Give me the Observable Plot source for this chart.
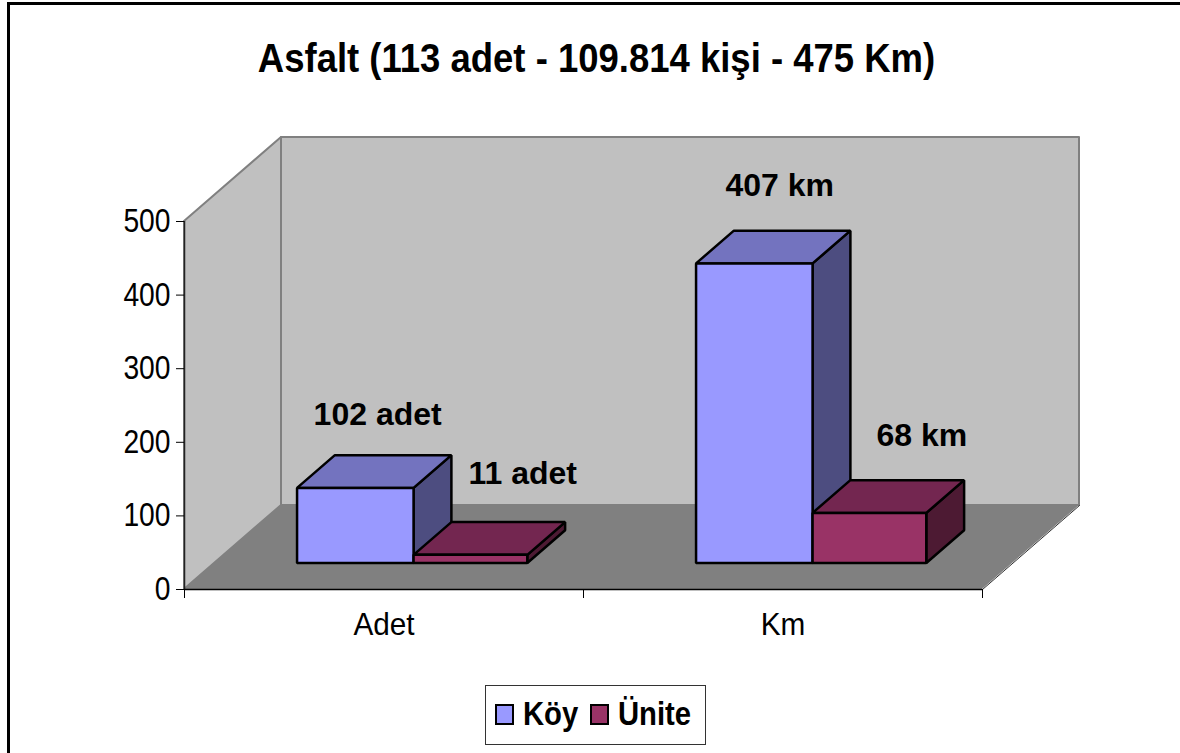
<!DOCTYPE html>
<html><head><meta charset="utf-8">
<script src="https://cdn.jsdelivr.net/npm/d3@7"></script>
<script src="https://cdn.jsdelivr.net/npm/@observablehq/plot@0.6"></script>
<style>
html,body{margin:0;padding:0;background:#fff;overflow:hidden;width:1180px;height:753px}
body{position:relative;font-family:"Liberation Sans",Arial,sans-serif;color:#000}
#frame{position:absolute;left:7px;top:2px;width:1180px;height:760px;border:3px solid #000;box-sizing:border-box}
#title{position:absolute;left:0;top:33px;width:1193px;text-align:center;font-weight:bold;font-size:40px;line-height:50px;white-space:nowrap;transform:scaleX(.912);transform-origin:596.5px 0}
#chart{position:absolute;left:0;top:0}
#legend{position:absolute;left:485px;top:685px;width:221px;height:60px;box-sizing:border-box;border:1px solid #333;background:#fff;font-weight:bold;font-size:34px}
#legend span.k{position:absolute;top:18px;width:15px;height:17px;border:2px solid #000;box-sizing:content-box}
#legend span.l{position:absolute;top:8px;line-height:38px;white-space:nowrap;transform:scaleX(.86);transform-origin:0 0}
</style></head>
<body>
<div id="frame"></div>
<div id="chart"></div>
<div id="title"></div>
<div id="legend"></div>
<script>
const titleText = "Asfalt (113 adet - 109.814 kişi - 475 Km)";
const categories = ["Adet", "Km"];
const series = ["Köy", "Ünite"];
const koyValues = [102, 407];
const uniteValues = [11, 68];
const koyLabels = ["102 adet", "407 km"];
const uniteLabels = ["11 adet", "68 km"];
const yTicks = [0, 100, 200, 300, 400, 500];
const frontColors = ["#9999ff", "#993366"];
const topColors = ["#7373bf", "#732650"];
const sideColors = ["#4d4d80", "#4d1a33"];

// oblique projection: depth 1 = back wall, shifted by (97, -84) pixels
const pxPerX = 399, pxPerY = 0.736;
const P = (x, v, d) => ({x: x + d * 97 / pxPerX, y: v + d * 84 / pxPerY});
const quad = (a, b, c, e, opts) => Plot.area(
  [{x1: a.x, y1: a.y, x2: b.x, y2: b.y}, {x1: e.x, y1: e.y, x2: c.x, y2: c.y}],
  {x1: "x1", y1: "y1", x2: "x2", y2: "y2", ...opts}
);

const marks = [];
const wall = {fill: "#c0c0c0", stroke: "#808080", strokeWidth: 2};
marks.push(quad(P(0,0,1), P(2,0,1), P(2,500,1), P(0,500,1), wall));
marks.push(quad(P(0,0,0), P(0,0,1), P(0,500,1), P(0,500,0), wall));
marks.push(quad(P(0,0,0), P(2,0,0), P(2,0,1), P(0,0,1), {fill: "#808080"}));
marks.push(Plot.line([P(2,0,0), P(2,0,1)], {x: "x", y: "y", stroke: "#333", strokeWidth: 1}));

// bars
const leftHalf = 0.292, rightHalf = 0.285, d0 = 0.31, d1 = 0.70;
const edge = {stroke: "#000", strokeWidth: 2.5, strokeLinejoin: "miter"};
const labels = [];
categories.forEach((c, i) => {
  const mid = i + 0.5;
  [koyValues, uniteValues].forEach((vals, s) => {
    const xa = s === 0 ? mid - leftHalf : mid;
    const xb = s === 0 ? mid : mid + rightHalf;
    const v = vals[i];
    marks.push(quad(P(xb,0,d0), P(xb,0,d1), P(xb,v,d1), P(xb,v,d0), {fill: sideColors[s], ...edge}));
    marks.push(quad(P(xa,v,d0), P(xb,v,d0), P(xb,v,d1), P(xa,v,d1), {fill: topColors[s], ...edge}));
    marks.push(quad(P(xa,0,d0), P(xb,0,d0), P(xb,v,d0), P(xa,v,d0), {fill: frontColors[s], ...edge}));
    labels.push({...P((xa + xb) / 2, v, d1), text: (s === 0 ? koyLabels : uniteLabels)[i], s, i});
  });
});
const labelOff = [[[-16,-41],[-13,-45]],[[14,-49],[14,-45]]];
labels.forEach(l => {
  const [dx, dy] = labelOff[l.s][l.i];
  marks.push(Plot.text([l], {x: "x", y: "y", text: "text", dx, dy, fontWeight: "bold", fontSize: 32, fill: "#000", stroke: null, ariaLabel: "value label"}));
});

// axes
marks.push(Plot.ruleX([0], {stroke: "#222", strokeWidth: 1.5}));
marks.push(Plot.ruleY([0], {stroke: "#000", strokeWidth: 1.5}));
marks.push(Plot.axisY({ticks: yTicks, tickSize: 8, tickPadding: 6, fontSize: 33, label: null, stroke: "#000"}));
marks.push(Plot.axisX({ticks: [0, 1, 2], tickSize: 9, tickFormat: () => "", label: null, stroke: "#000"}));
marks.push(Plot.axisX({ticks: categories.map((c, i) => i + 0.5), tickSize: 0, tickPadding: 23, fontSize: 32, label: null,
  tickFormat: t => categories[Math.floor(t)]}));

const plot = Plot.plot({
  width: 1180, height: 753,
  marginLeft: 184, marginRight: 198, marginTop: 221, marginBottom: 164,
  style: {background: "transparent", fontFamily: "'Liberation Sans', Arial, sans-serif", overflow: "visible", color: "#000"},
  x: {domain: [0, 2]},
  y: {domain: [0, 500]},
  marks
});
document.getElementById("chart").append(plot);
document.getElementById("title").textContent = titleText;

// the reference's type is narrow: squeeze real text horizontally
const squeeze = (sel, f) => plot.querySelectorAll(sel).forEach(t => {
  const w = t.getComputedTextLength();
  if (w > 0) { t.setAttribute("textLength", w * f); t.setAttribute("lengthAdjust", "spacingAndGlyphs"); }
});
squeeze('[aria-label="y-axis tick label"] text', 0.855);
squeeze('[aria-label="x-axis tick label"] text', 0.93);
squeeze('[aria-label="value label"] text', 0.92);

const lg = document.getElementById("legend");
const pos = [[9, 37], [104, 132]];
series.forEach((s, i) => {
  const k = document.createElement("span"); k.className = "k"; k.style.left = pos[i][0] + "px"; k.style.background = frontColors[i];
  const l = document.createElement("span"); l.className = "l"; l.style.left = pos[i][1] + "px"; l.textContent = s;
  lg.append(k, l);
});
</script>
</body></html>
